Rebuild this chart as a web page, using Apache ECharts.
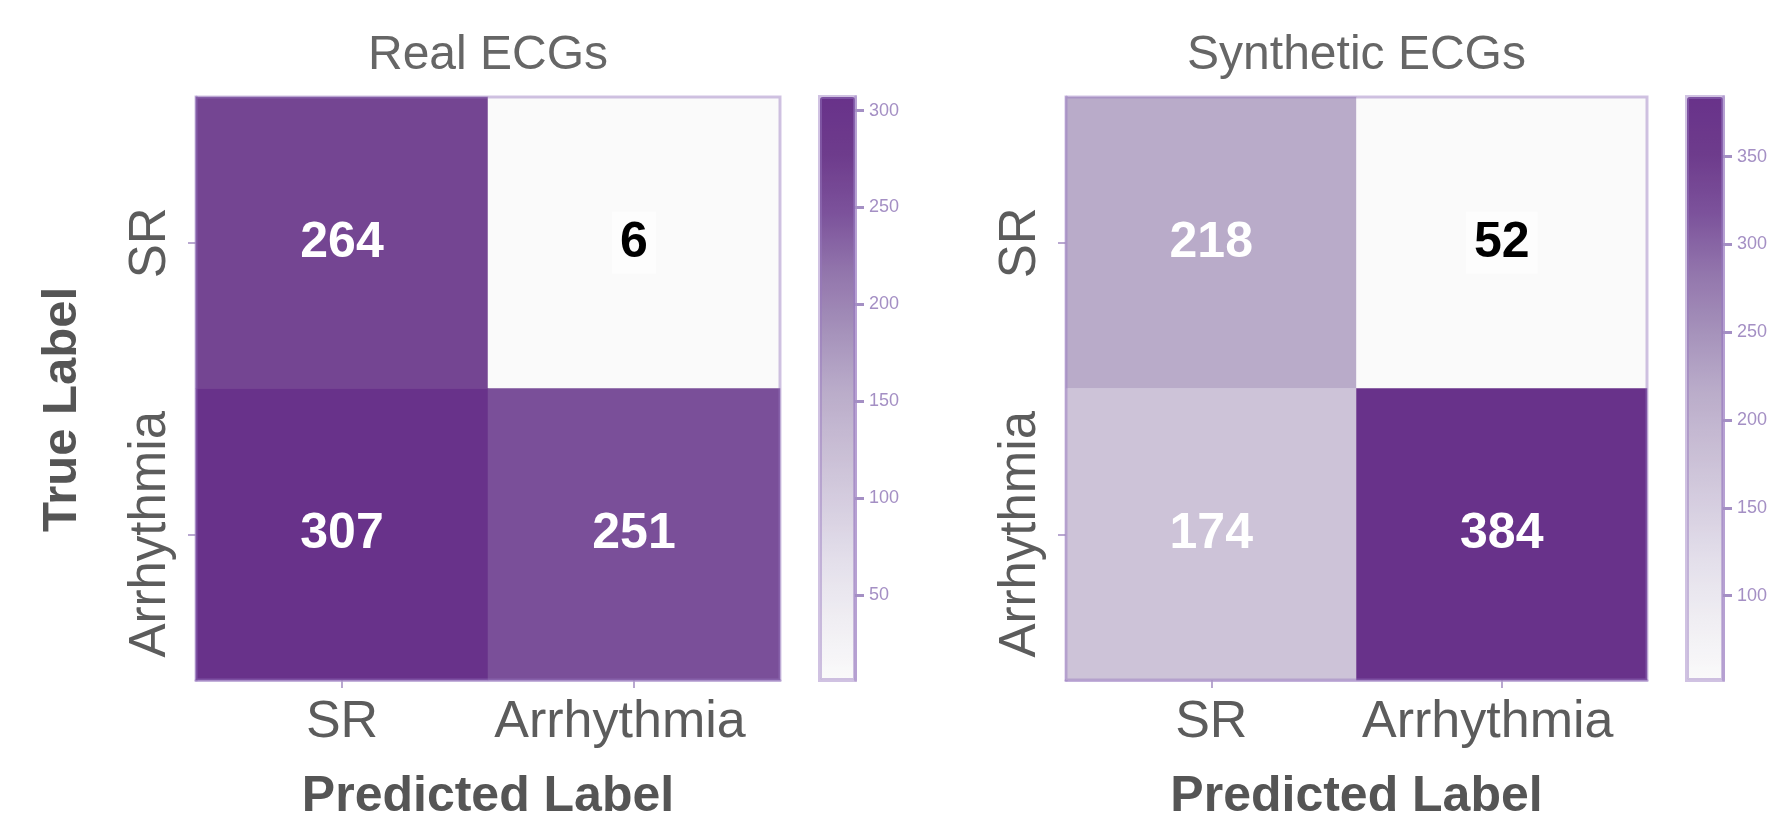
<!DOCTYPE html>
<html>
<head>
<meta charset="utf-8">
<style>
  html, body { margin: 0; padding: 0; background: #fff; }
  #chart { width: 1783px; height: 815px; }
</style>
<script src="https://cdn.jsdelivr.net/npm/echarts@6/dist/echarts.min.js"></script>
</head>
<body>
<div id="chart"></div>
<script>
// class labels (rows = true label, columns = predicted label)
const categories = ['SR', 'Arrhythmia'];
const titles = ['Real ECGs', 'Synthetic ECGs'];

// confusion matrices, row by row
const realValues = [[264, 6], [307, 251]];
const synthValues = [[218, 52], [174, 384]];

// colorbar tick labels
const realTicks = [50, 100, 150, 200, 250, 300];
const synthTicks = [100, 150, 200, 250, 300, 350];

// washed-out purple ramp, light -> dark
const RAMP = ['#fafafa', '#f0eef3', '#e4e0eb', '#d6cee0', '#c8bdd4', '#b9abc9',
              '#a591ba', '#9275ac', '#7c529b', '#6e3c8c', '#68328a'];

const FONT = 'Liberation Sans, Arial, sans-serif';
const FRAME = 'rgba(150,120,190,0.45)';
const TICK = '#b9a8d0';

const chart = echarts.init(document.getElementById('chart'));

function buildPanel(idx, values, ticks, box, bar, showYName) {
    const flat = values.flat();
    const vmin = Math.min(...flat);
    const vmax = Math.max(...flat);
    const g = idx * 2;

    const data = [];
    values.forEach(function (row, r) {
        row.forEach(function (v, c) {
            const item = { value: [c, r, v] };
            if (v === vmin) {
                item.label = { color: '#000', backgroundColor: '#fdfdfd', padding: [6, 8] };
            }
            data.push(item);
        });
    });

    return {
        grids: [
            { left: box[0], top: box[1], width: box[2], height: box[3], show: true,
              outerBoundsMode: 'none', containLabel: false,
              borderColor: FRAME, borderWidth: 3, backgroundColor: 'rgba(0,0,0,0)', z: 5 },
            { left: bar[0], top: bar[1], width: bar[2], height: bar[3], show: true,
              outerBoundsMode: 'none', containLabel: false,
              borderColor: FRAME, borderWidth: 4, backgroundColor: 'rgba(0,0,0,0)', z: 5 }
        ],
        xAxes: [
            {
                type: 'category', gridIndex: g, data: categories,
                axisLine: { show: true, lineStyle: { color: FRAME, width: 3 } },
                axisTick: { show: true, alignWithLabel: true, length: 8, lineStyle: { color: TICK, width: 2 } },
                axisLabel: {
                    interval: 0, fontSize: 52, color: '#5c5c5c', fontFamily: FONT, margin: 17,
                    // the long label sits a little left of its tick in the original
                    formatter: function (v) { return v === 'SR' ? v : '{s|' + v + '}'; },
                    rich: { s: { fontSize: 52, color: '#5c5c5c', fontFamily: FONT, padding: [0, 28, 0, 0] } }
                },
                splitLine: { show: false },
                name: 'Predicted Label', nameLocation: 'middle', nameGap: 92,
                nameTextStyle: { fontSize: 50, fontWeight: 'bold', color: '#555', fontFamily: FONT }
            },
            { type: 'value', gridIndex: g + 1, show: false }
        ],
        yAxes: [
            {
                type: 'category', gridIndex: g, data: categories, inverse: true,
                axisLine: { show: true, lineStyle: { color: FRAME, width: 3 } },
                axisTick: { show: true, alignWithLabel: true, length: 8, lineStyle: { color: TICK, width: 2 } },
                axisLabel: { interval: 0, fontSize: 51, color: '#5c5c5c', fontFamily: FONT, rotate: 90, margin: 20 },
                splitLine: { show: false },
                name: showYName ? 'True Label' : '', nameLocation: 'middle', nameGap: 109,
                nameTextStyle: { fontSize: 49, fontWeight: 'bold', color: '#555', fontFamily: FONT,
                                 padding: [0, 42, 0, 0] }
            },
            {
                type: 'value', gridIndex: g + 1, position: 'right', min: vmin, max: vmax,
                z: 10,
                axisLine: { show: true, onZero: false, lineStyle: { color: FRAME, width: 3 } },
                axisTick: { show: true, inside: false, length: 9, customValues: ticks,
                            lineStyle: { color: '#a48fc4', width: 3 } },
                axisLabel: { customValues: ticks, fontSize: 18, color: '#a48fc4',
                             fontFamily: FONT, margin: 14 },
                splitLine: { show: false }
            }
        ],
        visualMap: {
            type: 'continuous', min: vmin, max: vmax, seriesIndex: idx,
            calculable: false, orient: 'vertical', z: 2,
            left: bar[0], top: bar[1], itemWidth: bar[2], itemHeight: bar[3],
            padding: 0, text: null, showLabel: false,
            inRange: { color: RAMP }
        },
        series: {
            type: 'heatmap', xAxisIndex: g, yAxisIndex: g, data: data,
            label: { show: true, fontSize: 50, fontWeight: 'bold', color: '#fff', fontFamily: FONT },
            itemStyle: { borderWidth: 0 },
            emphasis: { disabled: true }
        },
        title: {
            text: titles[idx], left: box[0] + box[2] / 2, top: 32, textAlign: 'center', padding: 0,
            textStyle: { fontSize: 48, fontWeight: 'normal', color: '#666', fontFamily: FONT }
        }
    };
}

const left = buildPanel(0, realValues, realTicks, [196, 97, 584, 583], [820, 97, 35, 583], true);
const right = buildPanel(1, synthValues, synthTicks, [1066, 97, 581, 583], [1687, 97, 36, 583], false);

chart.setOption({
    backgroundColor: '#fff',
    animation: false,
    title: [left.title, right.title],
    grid: left.grids.concat(right.grids),
    xAxis: left.xAxes.concat(right.xAxes),
    yAxis: left.yAxes.concat(right.yAxes),
    visualMap: [left.visualMap, right.visualMap],
    series: [left.series, right.series]
});

window.addEventListener('resize', function () {
    chart.resize();
});
</script>
</body>
</html>
